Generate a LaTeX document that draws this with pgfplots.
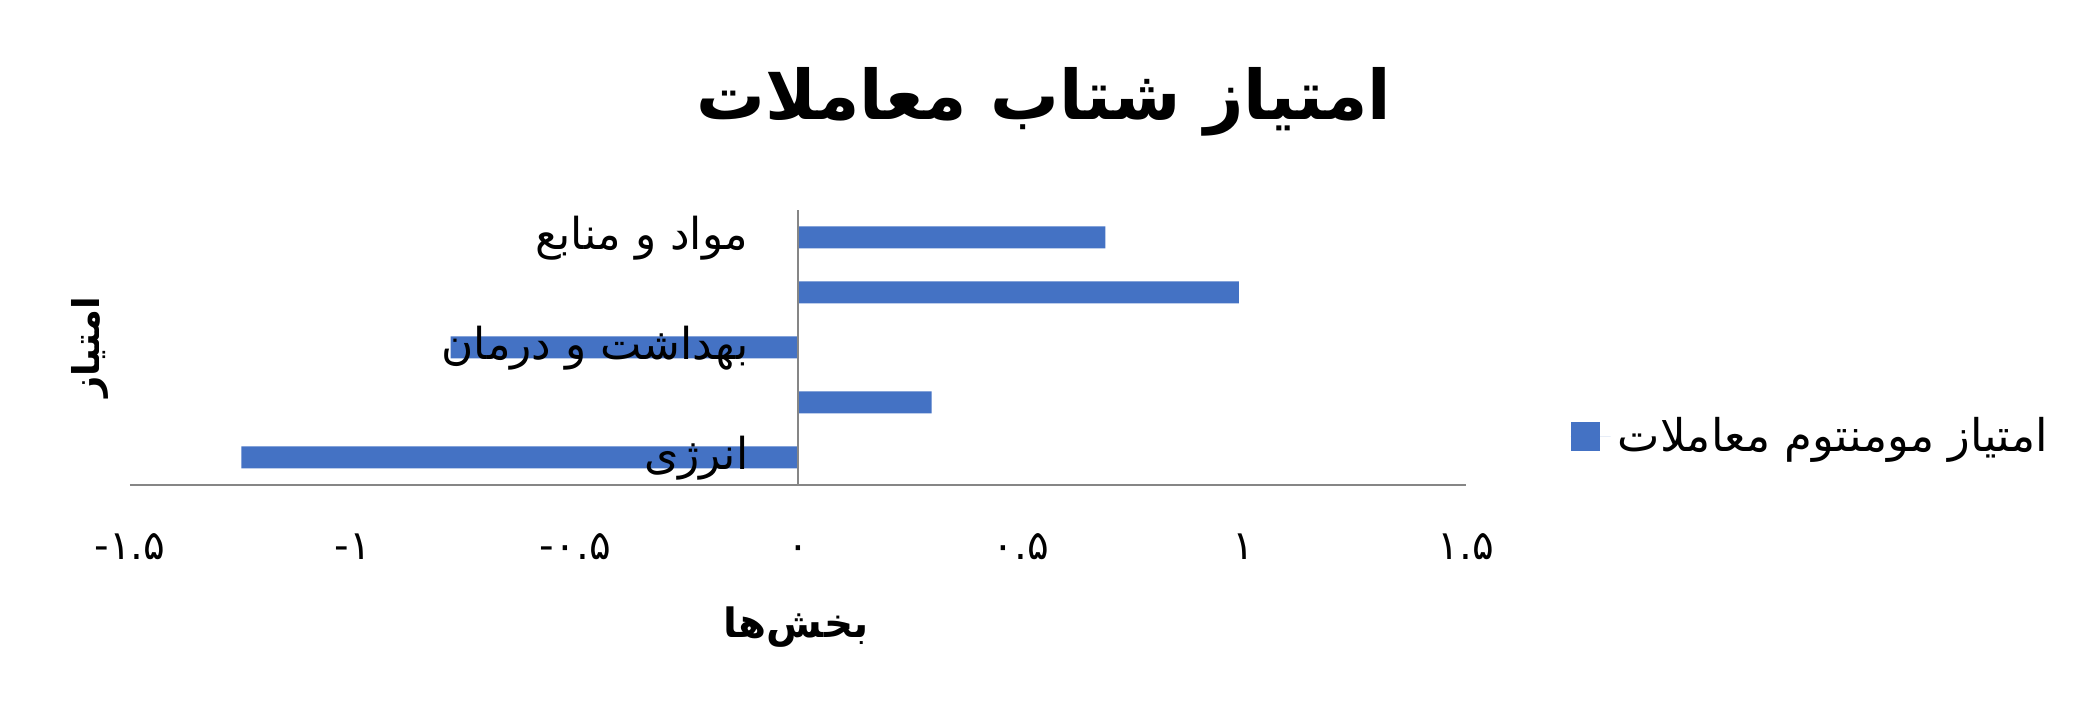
\documentclass[border=0pt]{standalone}
\usepackage{fontspec}
\usepackage{pgfplots}
\pgfplotsset{compat=1.18}
\newfontfamily\arabicfont[Script=Arabic]{DejaVu Sans}
\newfontfamily\numfont{DejaVu Sans}
\TeXXeTstate=1
\definecolor{barblue}{HTML}{4472C4}
\definecolor{axisgray}{HTML}{868686}

\begin{document}
\begin{tikzpicture}
	\begin{axis}[
		at={(13mm,22.9mm)}, anchor=south west,
		scale only axis, width=133.6mm, height=27.5mm,
		xbar, bar width=2.2mm,
		xmin=-1.5, xmax=1.5, ymin=0.5, ymax=5.5,
		axis on top,
		axis x line=bottom, axis y line=middle,
		x axis line style={-, axisgray, line width=0.6pt},
		y axis line style={-, axisgray, line width=0.45pt},
		major tick length=0pt,
		hide obscured x ticks=false,
		xtick={-1.5,-1,-0.5,0,0.5,1,1.5},
		xticklabels={-۱.۵,-۱,-۰.۵,۰,۰.۵,۱,۱.۵},
		xticklabel style={font=\numfont\fontsize{11.5}{13}\selectfont, anchor=base, yshift=-7.5mm},
		ytick={1,3,5},
		yticklabels={{\beginR انرژی\endR},{\beginR بهداشت و درمان\endR},{\beginR مواد و منابع\endR}},
		yticklabel style={font=\arabicfont\fontsize{12.5}{14}\selectfont, anchor=base east, inner sep=0pt, xshift=-4.9mm, yshift=-1.2mm},
		legend style={at={(1.0778,0.1745)}, anchor=west, draw=none, inner sep=0pt,
			font=\arabicfont\fontsize{12.8}{15}\selectfont,
			legend cell align=left},
		legend image code/.code={\fill[barblue] (0,-1.45mm) rectangle (2.9mm,1.45mm); \path (0,0) -- (4.0mm,0);},
	]
		% values, bottom to top
		\addplot[fill=barblue, draw=none] coordinates {
			(-1.25,1)
			(0.30,2)
			(-0.78,3)
			(0.99,4)
			(0.69,5)
		};
		\addlegendentry{\beginR امتیاز مومنتوم معاملات\endR}
	\end{axis}
	\node[font=\arabicfont\bfseries\fontsize{19.5}{23}\selectfont, anchor=base] at (104.4mm,59.4mm) {\beginR امتیاز شتاب معاملات\endR};
	\node[font=\arabicfont\bfseries\fontsize{10.5}{12}\selectfont, rotate=90] at (9mm,36.7mm) {\beginR امتیاز\endR};
	\node[font=\arabicfont\bfseries\fontsize{11.5}{13}\selectfont] at (79.6mm,8.7mm) {\beginR بخش‌ها\endR};
	\pgfresetboundingbox
	\path[use as bounding box] (0,0) rectangle (208.8mm,71.4mm);
\end{tikzpicture}
\end{document}
